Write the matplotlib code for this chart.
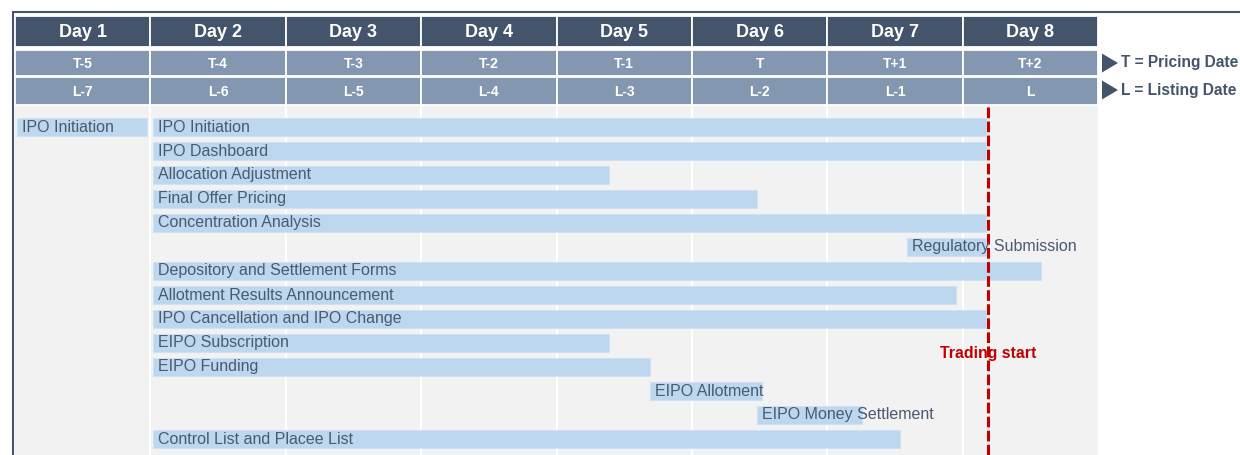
import matplotlib
matplotlib.use("Agg")
import matplotlib.pyplot as plt
from matplotlib.patches import Rectangle, Polygon

plt.rcParams['font.family'] = ['Liberation Sans', 'DejaVu Sans']

# ---------------- data ----------------
days = ["Day 1", "Day 2", "Day 3", "Day 4", "Day 5", "Day 6", "Day 7", "Day 8"]
t_labels = ["T-5", "T-4", "T-3", "T-2", "T-1", "T", "T+1", "T+2"]
l_labels = ["L-7", "L-6", "L-5", "L-4", "L-3", "L-2", "L-1", "L"]

task_names = ["IPO Initiation", "IPO Initiation", "IPO Dashboard", "Allocation Adjustment",
              "Final Offer Pricing", "Concentration Analysis", "Regulatory Submission",
              "Depository and Settlement Forms", "Allotment Results Announcement",
              "IPO Cancellation and IPO Change", "EIPO Subscription", "EIPO Funding",
              "EIPO Allotment", "EIPO Money Settlement", "Control List and Placee List"]
task_rows = [0, 0, 1, 2, 3, 4, 5, 6, 7, 8, 9, 10, 11, 12, 13]
task_start = [0.015, 1.02, 1.02, 1.02, 1.02, 1.02, 6.59, 1.02, 1.02, 1.02, 1.02, 1.02, 4.69, 5.48, 1.02]
task_end = [0.975, 7.17, 7.17, 4.39, 5.48, 7.17, 7.17, 7.58, 6.95, 7.17, 4.39, 4.69, 5.52, 6.26, 6.54]

trading_start_x = 7.19
trading_label = "Trading start"
legend_items = ["T = Pricing Date", "L = Listing Date"]

# ---------------- style ----------------
W, H = 1240, 455
DARK = "#44546a"
MID = "#8497b0"
BODY = "#f2f2f2"
BAR = "#bdd7ee"
RED = "#c00000"
TXT = "#4a5a70"

fig = plt.figure(figsize=(W / 100, H / 100), dpi=100)

def px_axes(x0, y0, x1, y1):
    return fig.add_axes([x0 / W, 1 - y1 / H, (x1 - x0) / W, (y1 - y0) / H])

# ---- body axes ----
ax = px_axes(15, 106, 1098, 455)
ax.set_facecolor(BODY)
ax.set_xlim(0, 8)
row_px = 24.0
ax.set_ylim((455 - 127) / row_px, (106 - 127) / row_px)
for s in ax.spines.values():
    s.set_visible(False)
ax.set_xticks([])
ax.set_yticks([])
for i in range(1, 8):
    ax.axvline(i, color="white", lw=1.5, zorder=1)

widths = [e - s for s, e in zip(task_start, task_end)]
ax.barh(task_rows, widths, left=task_start, height=0.78, color=BAR,
        edgecolor="#cfe1f2", linewidth=0.8, zorder=2)
for name, r, s in zip(task_names, task_rows, task_start):
    ax.annotate(name, (s, r), xytext=(3.4, 0), textcoords="offset points",
                ha="left", va="center", fontsize=11.55, color=TXT, zorder=4,
                annotation_clip=False)

ax.axvline(trading_start_x, color=RED, lw=2.2, dashes=(3.5, 1.1), zorder=3)
ax.text(trading_start_x, 9.42, trading_label, ha="center", va="center",
        fontsize=11.4, fontweight="bold", color=RED, zorder=5)

# ---- header axes ----
hx = px_axes(15, 16, 1098, 105)
hx.set_xlim(0, 8)
hx.set_ylim(105, 16)
hx.axis("off")
header_rows = [(days, 16, 47, DARK, 13), (t_labels, 50, 76, MID, 10), (l_labels, 77, 105, MID, 10)]
for labels, y0, y1, col, fs in header_rows:
    for i, lab in enumerate(labels):
        hx.add_patch(Rectangle((i, y0), 1, y1 - y0, facecolor=col, edgecolor="white", lw=1.3))
        hx.text(i + 0.5, (y0 + y1) / 2 + 0.8, lab, ha="center", va="center",
                fontsize=fs, fontweight="bold", color="white")

# ---- overlay: borders and legend ----
ov = fig.add_axes([0, 0, 1, 1], zorder=10)
ov.set_xlim(0, W)
ov.set_ylim(H, 0)
ov.axis("off")
ov.patch.set_alpha(0)
ov.plot([12, W], [12, 12], color=DARK, lw=1.5, solid_capstyle="butt")
ov.plot([12.5, 12.5], [12, H], color=DARK, lw=1.5, solid_capstyle="butt")
for k, (txt, yc) in enumerate(zip(legend_items, [63, 90])):
    ov.add_patch(Polygon([[1102, yc - 9.5], [1102, yc + 9.5], [1118, yc]], closed=True,
                         facecolor=DARK, edgecolor="none"))
    ov.text(1121, yc, txt, ha="left", va="center", fontsize=11.2, fontweight="bold",
            color=DARK)

fig.savefig("out.png", dpi=100)
